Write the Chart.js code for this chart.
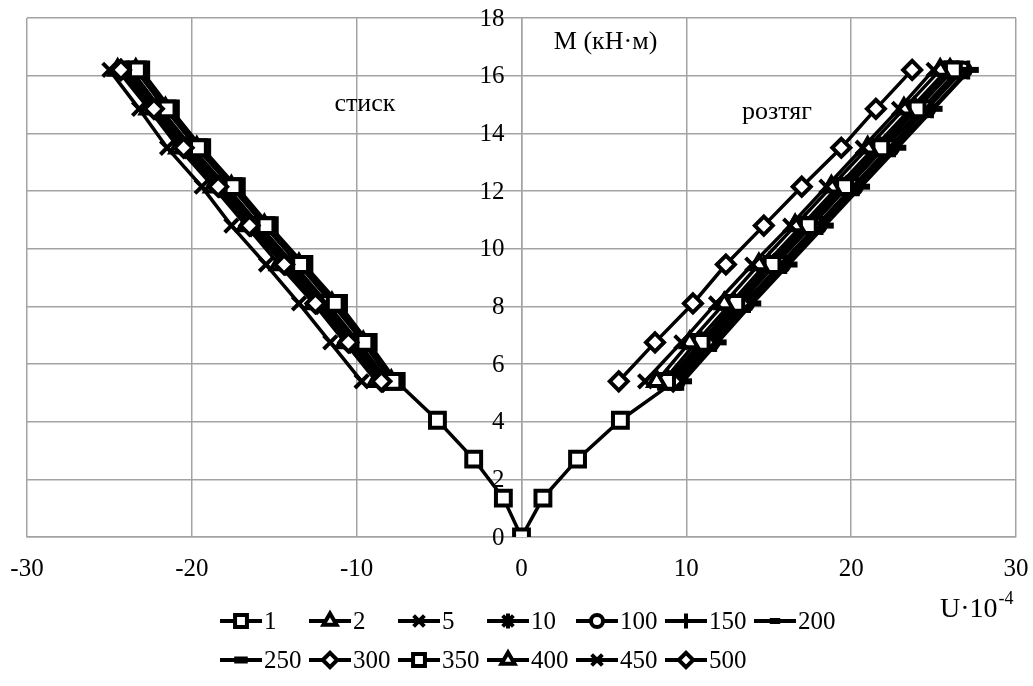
<!DOCTYPE html>
<html>
<head>
<meta charset="utf-8">
<script src="https://cdn.jsdelivr.net/npm/chart.js@4/dist/chart.umd.min.js"></script>
<style>
  body { margin: 0; background: #fff; }
  #wrap { width: 1033px; height: 686px; }
</style>
</head>
<body>
<div id="wrap"><canvas id="chart" width="1033" height="686"></canvas></div>
<script>
    "use strict";

    // Series names (legend) and bending moments M, kN·m
    var seriesLabels = ['1', '2', '5', '10', '100', '150', '200', '250', '300', '350', '400', '450', '500'];
    var moments = [5.4, 6.75, 8.1, 9.45, 10.8, 12.15, 13.5, 14.85, 16.2];

    // first loading of series "1" (through the origin)
    var initMoments = [0, 1.35, 2.7, 4.05];
    var initCompression = [0, -1.1, -2.9, -5.1];
    var initTension = [0, 1.3, 3.4, 6.0];

    // strains U·10^-4, compression side (стиск), one row per series, M = 5.4 ... 16.2
    var compression = [
        [-7.6, -9.3, -11.1, -13.2, -15.3, -17.3, -19.4, -21.3, -23.1],
        [-7.9, -9.6, -11.5, -13.5, -15.6, -17.6, -19.7, -21.6, -23.4],
        [-8.1, -9.9, -11.8, -13.8, -15.9, -17.9, -20.0, -21.9, -23.7],
        [-8.3, -10.1, -12.0, -14.0, -16.1, -18.1, -20.2, -22.1, -23.9],
        [-8.2, -10.0, -11.9, -13.9, -16.0, -18.0, -20.1, -22.0, -23.8],
        [-8.4, -10.2, -12.1, -14.1, -16.2, -18.2, -20.3, -22.2, -24.0],
        [-8.5, -10.3, -12.3, -14.3, -16.4, -18.4, -20.5, -22.4, -24.2],
        [-8.6, -10.4, -12.4, -14.4, -16.5, -18.5, -20.6, -22.5, -24.3],
        [-8.4, -10.4, -12.4, -14.3, -16.4, -18.3, -20.4, -22.2, -24.3],
        [-7.8, -9.5, -11.3, -13.4, -15.5, -17.5, -19.6, -21.5, -23.3],
        [-8.8, -10.7, -12.6, -14.7, -16.7, -18.7, -20.8, -22.6, -24.5],
        [-9.7, -11.6, -13.5, -15.5, -17.6, -19.4, -21.5, -23.2, -25.0],
        [-8.5, -10.5, -12.5, -14.4, -16.5, -18.4, -20.5, -22.3, -24.3]
    ];

    // strains U·10^-4, tension side (розтяг)
    var tension = [
        [9.3, 11.3, 13.2, 15.2, 17.4, 19.6, 21.8, 23.9, 25.9],
        [8.9, 10.9, 12.9, 15.0, 17.2, 19.4, 21.6, 23.8, 26.0],
        [8.6, 10.6, 12.7, 14.8, 17.0, 19.2, 21.4, 23.6, 25.8],
        [9.0, 11.1, 13.2, 15.4, 17.6, 19.8, 22.0, 24.3, 26.5],
        [9.4, 11.5, 13.6, 15.8, 18.0, 20.2, 22.4, 24.6, 26.8],
        [9.6, 11.7, 13.8, 16.0, 18.2, 20.4, 22.6, 24.9, 27.1],
        [9.3, 11.4, 13.5, 15.7, 17.9, 20.1, 22.3, 24.5, 26.7],
        [9.8, 11.9, 14.0, 16.2, 18.4, 20.6, 22.8, 25.0, 27.2],
        [9.2, 11.2, 13.3, 15.3, 17.6, 19.7, 21.8, 23.9, 26.0],
        [8.8, 10.9, 13.0, 15.2, 17.4, 19.6, 21.8, 24.0, 26.2],
        [8.2, 10.2, 12.3, 14.4, 16.6, 18.8, 21.0, 23.2, 25.4],
        [7.5, 9.7, 11.8, 14.0, 16.3, 18.5, 20.7, 22.9, 25.0],
        [5.9, 8.1, 10.4, 12.4, 14.7, 17.0, 19.4, 21.5, 23.7]
    ];

    var xTicks = [-30, -20, -10, 0, 10, 20, 30];
    var yTicks = [0, 2, 4, 6, 8, 10, 12, 14, 16, 18];

    // marker per series: [pointStyle, radius, border width]
    var markers = [
        ['rect', 10.5, 4], ['triangle', 9.5, 4], ['crossRot', 9.5, 4], ['star', 9.5, 4],
        ['circle', 7.5, 4], ['cross', 9.5, 4], ['line', 7, 5], ['line', 9, 6],
        ['rectRot', 9, 4], ['rect', 10.5, 4], ['triangle', 9.5, 4], ['crossRot', 9.5, 4],
        ['rectRot', 9, 4]
    ];

    var serif = '"Liberation Serif", "Times New Roman", serif';
    var gridColor = '#a3a3a3';

    function buildPoints(i) {
        var pts = [];
        var k;
        for (k = moments.length - 1; k >= 0; k--) {
            pts.push({x: compression[i][k], y: moments[k]});
        }
        if (i === 0) {
            for (k = initMoments.length - 1; k >= 0; k--) {
                pts.push({x: initCompression[k], y: initMoments[k]});
            }
            for (k = 1; k < initMoments.length; k++) {
                pts.push({x: initTension[k], y: initMoments[k]});
            }
        } else {
            pts.push({x: null, y: null});
        }
        for (k = 0; k < moments.length; k++) {
            pts.push({x: tension[i][k], y: moments[k]});
        }
        return pts;
    }

    var datasets = seriesLabels.map(function (label, i) {
        return {
            label: label,
            data: buildPoints(i),
            showLine: true,
            spanGaps: false,
            borderColor: '#000',
            borderWidth: 3.5,
            pointStyle: markers[i][0],
            pointRadius: markers[i][1],
            pointBorderWidth: markers[i][2],
            pointBorderColor: '#000',
            pointBackgroundColor: '#fff',
            order: seriesLabels.length - i
        };
    });

    // Y tick labels (left of the central axis) and texts on the plot
    var labelsPlugin = {
        id: 'labels',
        afterDraw: function (chart) {
            var ctx = chart.ctx;
            var x = chart.scales.x, y = chart.scales.y;
            ctx.save();
            ctx.fillStyle = '#000';
            ctx.font = '25px ' + serif;
            ctx.textAlign = 'right';
            ctx.textBaseline = 'middle';
            yTicks.forEach(function (v) {
                ctx.fillText(String(v), x.getPixelForValue(0) - 17, y.getPixelForValue(v) + 1);
            });

            ctx.textAlign = 'center';
            ctx.font = '26px ' + serif;
            ctx.fillText('стиск', x.getPixelForValue(-9.5), y.getPixelForValue(15.0));
            ctx.fillText('розтяг', x.getPixelForValue(15.5), y.getPixelForValue(14.75));
            ctx.fillText('M (кН·м)', x.getPixelForValue(5.1), y.getPixelForValue(17.15));

            // axis title U·10^-4
            ctx.textAlign = 'left';
            ctx.textBaseline = 'alphabetic';
            ctx.font = '28px ' + serif;
            ctx.fillText('U·10', 940, 617);
            var w = ctx.measureText('U·10').width;
            ctx.font = '18px ' + serif;
            ctx.fillText('-4', 940 + w + 1, 604);
            ctx.restore();
        }
    };

    // Legend: fixed columns, line with marker, then text
    var legendPlugin = {
        id: 'gridLegend',
        afterDraw: function (chart) {
            var ctx = chart.ctx;
            var drawPoint = Chart.helpers && Chart.helpers.drawPoint;
            ctx.save();
            chart.data.datasets.forEach(function (ds, i) {
                var col = i % 7, row = Math.floor(i / 7);
                var x0 = 220 + col * 89;
                var yc = 621 + row * 39;
                ctx.strokeStyle = '#000';
                ctx.lineWidth = 4;
                ctx.beginPath();
                ctx.moveTo(x0, yc);
                ctx.lineTo(x0 + 42, yc);
                ctx.stroke();
                if (ds.pointStyle === 'line') {
                    // dash marker: small filled bar on the line
                    var bw = ds.pointRadius * 1.5;
                    ctx.fillStyle = '#000';
                    ctx.fillRect(x0 + 21 - bw / 2, yc - ds.pointBorderWidth / 2 - 0.5, bw, ds.pointBorderWidth + 1);
                } else if (drawPoint) {
                    ctx.fillStyle = '#fff';
                    ctx.lineWidth = ds.pointBorderWidth;
                    drawPoint(ctx, {
                        pointStyle: ds.pointStyle,
                        radius: ds.pointRadius * 0.8,
                        rotation: 0,
                        borderWidth: ds.pointBorderWidth
                    }, x0 + 21, yc);
                }
                ctx.fillStyle = '#000';
                ctx.font = '25px ' + serif;
                ctx.textAlign = 'left';
                ctx.textBaseline = 'middle';
                ctx.fillText(ds.label, x0 + 44, yc + 1);
            });
            ctx.restore();
        }
    };

    var ctx = document.getElementById('chart').getContext('2d');
    var myChart = new Chart(ctx, {
        type: 'scatter',
        data: {datasets: datasets},
        options: {
            responsive: false,
            animation: false,
            layout: {padding: {left: 27, right: 17, top: 18, bottom: 0}},
            plugins: {
                legend: {display: false},
                tooltip: {enabled: false}
            },
            scales: {
                x: {
                    type: 'linear',
                    position: 'bottom',
                    min: xTicks[0],
                    max: xTicks[xTicks.length - 1],
                    afterBuildTicks: function (scale) {
                        scale.ticks = xTicks.map(function (v) { return {value: v}; });
                    },
                    afterFit: function (scale) {
                        scale.height = 149;
                        scale.paddingLeft = 0;
                        scale.paddingRight = 0;
                    },
                    ticks: {color: '#000', font: {family: serif, size: 25}, padding: 17},
                    grid: {color: gridColor, lineWidth: 1.5, drawTicks: false},
                    border: {color: gridColor, width: 1.5}
                },
                y: {
                    type: 'linear',
                    position: {x: 0},
                    min: yTicks[0],
                    max: yTicks[yTicks.length - 1],
                    afterBuildTicks: function (scale) {
                        scale.ticks = yTicks.map(function (v) { return {value: v}; });
                    },
                    afterFit: function (scale) {
                        scale.paddingTop = 0;
                        scale.paddingBottom = 0;
                    },
                    ticks: {display: false},
                    grid: {color: gridColor, lineWidth: 1.5, drawTicks: false},
                    border: {color: gridColor, width: 1.5}
                }
            }
        },
        plugins: [labelsPlugin, legendPlugin]
    });
</script>
</body>
</html>
